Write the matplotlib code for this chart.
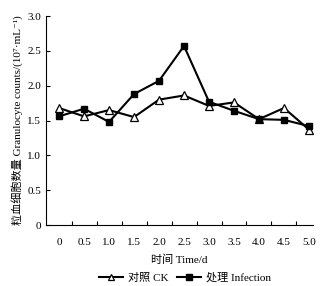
import numpy as np
import matplotlib
matplotlib.use("Agg")
import matplotlib.pyplot as plt

plt.rcParams['font.family'] = ['Liberation Serif', 'Noto Sans CJK SC', 'DejaVu Serif']

time_labels = ["0", "0.5", "1.0", "1.5", "2.0", "2.5", "3.0", "3.5", "4.0", "4.5", "5.0"]
ck = [1.68, 1.56, 1.65, 1.55, 1.80, 1.86, 1.71, 1.76, 1.52, 1.68, 1.37]
infection = [1.56, 1.67, 1.48, 1.88, 2.07, 2.57, 1.77, 1.64, 1.52, 1.51, 1.42]

fig = plt.figure(figsize=(3.22, 2.86), dpi=100)
ax = fig.add_axes([0.143, 0.213, 0.829, 0.731])

x = np.arange(len(time_labels))
ax.plot(x, ck, color='black', lw=1.5, marker='^', ms=5.5,
        mfc='white', mec='black', mew=0.9, label='对照 CK')
ax.plot(x, infection, color='black', lw=1.5, marker='s', ms=5,
        mfc='black', mec='black', label='处理 Infection')

ax.set_xlim(-0.52, 10.16)
ax.set_ylim(0, 3.0)
ax.set_xticks(x)
ax.set_xticklabels(time_labels)
ax.set_xticks(x[:-1] + 0.5, minor=True)
ax.tick_params(axis='x', which='major', length=0, pad=9, labelsize=8)
ax.tick_params(axis='x', which='minor', direction='in', length=3, width=0.8)
ax.set_yticks([0, 0.5, 1.0, 1.5, 2.0, 2.5, 3.0])
ax.set_yticklabels(["0", "0.5", "1.0", "1.5", "2.0", "2.5", "3.0"])
ax.tick_params(axis='y', direction='in', length=3, width=0.8, labelsize=8)

for s in ['top', 'right']:
    ax.spines[s].set_visible(False)
for s in ['left', 'bottom']:
    ax.spines[s].set_linewidth(0.8)

ax.set_xlabel('时间 Time/d', fontsize=8, labelpad=6)
ax.set_ylabel('粒血细胞数量 Granulocyte counts/(10⁷·mL⁻¹)', fontsize=8, labelpad=3)

leg = ax.legend(loc='center', bbox_to_anchor=(0.52, -0.25), ncol=2, frameon=False,
                fontsize=8, handlelength=2.2, columnspacing=0.8, handletextpad=0.4,
                markerscale=0.75)

fig.savefig('out.png', dpi=100)
